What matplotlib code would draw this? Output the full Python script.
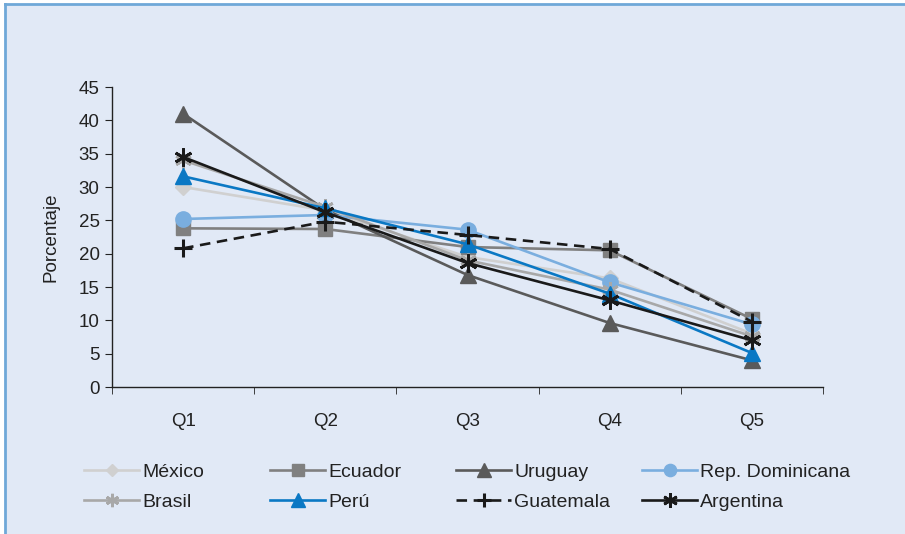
import matplotlib
matplotlib.use("Agg")
import matplotlib.pyplot as plt
from matplotlib.patches import Rectangle
from matplotlib.lines import Line2D

plt.rcParams['font.family'] = ['Liberation Sans', 'DejaVu Sans']

categories = ["Q1", "Q2", "Q3", "Q4", "Q5"]
mexico = [30.0, 26.5, 19.5, 16.3, 8.0]
ecuador = [23.8, 23.7, 21.0, 20.5, 10.2]
uruguay = [41.0, 26.6, 16.8, 9.6, 4.0]
rep_dominicana = [25.2, 25.8, 23.6, 15.7, 9.4]
brasil = [34.0, 27.0, 19.0, 14.6, 7.6]
peru = [31.6, 26.8, 21.4, 14.0, 5.1]
guatemala = [20.8, 24.8, 22.8, 20.7, 9.8]
argentina = [34.5, 26.2, 18.6, 13.0, 7.0]
y_ticks = [0, 5, 10, 15, 20, 25, 30, 35, 40, 45]

series = [
    ("México", mexico, dict(color="#d0d0d0", marker="D", ms=8, ls="-")),
    ("Ecuador", ecuador, dict(color="#808080", marker="s", ms=10.5, ls="-")),
    ("Uruguay", uruguay, dict(color="#5a5a5a", marker="^", ms=12, ls="-")),
    ("Rep. Dominicana", rep_dominicana, dict(color="#7aaedf", marker="o", ms=11, ls="-")),
    ("Brasil", brasil, dict(color="#a8a8a8", marker=(6, 2, 0), ms=12, ls="-", mew=2)),
    ("Perú", peru, dict(color="#0a78c4", marker="^", ms=12, ls="-")),
    ("Guatemala", guatemala, dict(color="#1a1a1a", marker="+", ms=13, ls=(0, (4, 2.5)), mew=2.2)),
    ("Argentina", argentina, dict(color="#1a1a1a", marker=(6, 2, 0), ms=13, ls="-", mew=2)),
]

bg = "#e1e9f6"
fig = plt.figure(figsize=(9.05, 5.34), dpi=100, facecolor="white")

# panel background with blue rule on top and left
fig.patches.append(Rectangle((5 / 905, 0), 1, 1 - 4 / 534, transform=fig.transFigure,
                             facecolor=bg, edgecolor="none", zorder=-5))
fig.lines.append(Line2D([5 / 905, 1], [1 - 4 / 534, 1 - 4 / 534], transform=fig.transFigure,
                        color="#6fa8d8", lw=2, zorder=-4))
fig.lines.append(Line2D([5 / 905, 5 / 905], [0, 1 - 4 / 534], transform=fig.transFigure,
                        color="#6fa8d8", lw=2, zorder=-4))

ax = fig.add_axes([112 / 905, 1 - 387 / 534, (823 - 112) / 905, (387 - 87) / 534])
ax.set_zorder(2)
ax.patch.set_alpha(0)

x = list(range(len(categories)))
handles = []
for name, vals, st in series:
    h, = ax.plot(x, vals, label=name, color=st["color"], ls=st["ls"], lw=1.9,
                 marker=st["marker"], markersize=st["ms"],
                 markeredgewidth=st.get("mew", 1.0), markeredgecolor=st["color"],
                 markerfacecolor=st["color"])
    handles.append(h)

ax.set_xlim(-0.5, len(categories) - 0.5)
ax.set_ylim(0, 45)
ax.set_yticks(y_ticks)
ax.set_xticks(x)
ax.set_xticklabels(categories)
ax.set_xticks([i - 0.5 for i in range(len(categories) + 1)], minor=True)
ax.tick_params(axis="x", which="major", length=0, pad=18.5, labelsize=13.5, labelcolor="#222222")
ax.tick_params(axis="x", which="minor", length=5, direction="out", color="#222222")
ax.tick_params(axis="y", length=5, direction="out", labelsize=13.5, color="#222222",
               labelcolor="#222222", pad=4)
for side in ("top", "right"):
    ax.spines[side].set_visible(False)
for side in ("left", "bottom"):
    ax.spines[side].set_color("#222222")
    ax.spines[side].set_linewidth(1.0)
ax.set_ylabel("Porcentaje", fontsize=13.5, labelpad=14, color="#222222")

# legend laid out as four fixed-width columns of two entries
columns = [(0, 4), (1, 5), (2, 6), (3, 7)]
col_x = [84, 270, 456, 642]
for (a, b), cx in zip(columns, col_x):
    leg = fig.legend([handles[a], handles[b]], [series[a][0], series[b][0]],
                     loc="upper left", bbox_to_anchor=(cx / 905, 1 - 463 / 534),
                     frameon=False, fontsize=14, handlelength=2.85, handletextpad=0.15,
                     labelspacing=0.65, borderaxespad=0, borderpad=0, markerscale=0.8,
                     labelcolor="#222222")
    leg.set_zorder(3)

fig.savefig("out.png", dpi=100, facecolor="white")
